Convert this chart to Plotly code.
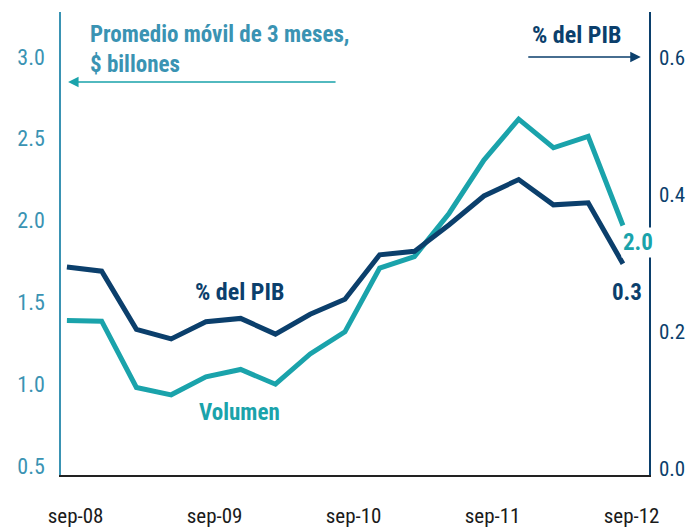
import plotly.graph_objects as go

# Data (quarterly points, sep-08 .. sep-12)
periodos = list(range(17))
volumen = [1.39, 1.385, 0.98, 0.935, 1.045, 1.09, 1.0, 1.185, 1.32, 1.71, 1.78, 2.045, 2.37, 2.62, 2.445, 2.515, 1.97]
pct_pib = [0.294, 0.288, 0.203, 0.189, 0.214, 0.219, 0.196, 0.225, 0.247, 0.312, 0.317, 0.356, 0.398, 0.422, 0.385, 0.388, 0.299]
tick_pos = [0.25, 4.25, 8.25, 12.25, 16.25]
tick_labels = ["sep-08", "sep-09", "sep-10", "sep-11", "sep-12"]
left_ticks = [0.5, 1.0, 1.5, 2.0, 2.5, 3.0]
right_ticks = [0.0, 0.2, 0.4, 0.6]

TEAL = "#1aa3ab"
TEAL_TXT = "#3a93b3"
NAVY = "#0b3f6c"
FONT = "Roboto Condensed, Liberation Sans Narrow, Arial Narrow, sans-serif"

fig = go.Figure()
fig.add_trace(go.Scatter(x=periodos, y=volumen, mode="lines",
                         line=dict(color=TEAL, width=5), yaxis="y", showlegend=False))
fig.add_trace(go.Scatter(x=periodos, y=pct_pib, mode="lines",
                         line=dict(color=NAVY, width=5), yaxis="y2", showlegend=False))

fig.update_layout(
    width=690, height=529,
    margin=dict(l=61, r=41, t=12, b=54),
    paper_bgcolor="white", plot_bgcolor="white",
    font=dict(family=FONT, size=22),
    xaxis=dict(range=[-0.17, 16.75], tickvals=tick_pos, ticktext=tick_labels,
               showgrid=False, zeroline=False, showline=True, linecolor="#222222",
               linewidth=1.5, ticks="", tickfont=dict(color="#1a1a1a", size=21),
               ticklabelstandoff=21, automargin=False),
    yaxis=dict(range=[0.445, 3.275], tickvals=left_ticks,
               ticktext=[f"{v:.1f}" for v in left_ticks],
               showgrid=False, zeroline=False, showline=True, linecolor=TEAL_TXT,
               linewidth=1.5, ticks="", tickfont=dict(color=TEAL_TXT, size=22),
               ticklabelstandoff=10, automargin=False),
    yaxis2=dict(range=[-0.01, 0.667], tickvals=right_ticks,
                ticktext=[f"{v:.1f}" for v in right_ticks],
                overlaying="y", side="right",
                showgrid=False, zeroline=False, showline=True, linecolor=NAVY,
                linewidth=1.5, ticks="", tickfont=dict(color=NAVY, size=21),
                ticklabelstandoff=4, automargin=False),
)

def label(x, y, text, color, size, bg=None):
    d = dict(xref="paper", yref="paper", x=x, y=y, xanchor="center", yanchor="middle",
             showarrow=False, text=f"<b>{text}</b>",
             font=dict(color=color, size=size, family=FONT))
    if bg:
        d["bgcolor"] = bg
    return d

ann = []
ann.append(dict(xref="paper", yref="paper", x=0.046, y=0.985, xanchor="left", yanchor="top",
                align="left", showarrow=False,
                text="<b>Promedio móvil de 3 meses,<br>$ billones</b>",
                font=dict(color=TEAL_TXT, size=23, family=FONT)))
ann.append(dict(xref="paper", yref="paper", x=0.012, y=0.849, ax=269, ay=0,
                showarrow=True, arrowhead=2, arrowsize=1.4, arrowwidth=1.5,
                arrowcolor=TEAL, text=""))
ann.append(label(0.876, 0.950, "% del PIB", NAVY, 24))
ann.append(dict(xref="paper", yref="paper", x=0.986, y=0.903, ax=-114, ay=0,
                showarrow=True, arrowhead=2, arrowsize=1.4, arrowwidth=1.5,
                arrowcolor=NAVY, text=""))
ann.append(label(0.304, 0.395, "% del PIB", NAVY, 24))
ann.append(label(0.304, 0.134, "Volumen", TEAL, 23))
ann.append(label(0.981, 0.503, "2.0", TEAL, 23, bg="white"))
ann.append(label(0.963, 0.395, "0.3", NAVY, 23))
fig.update_layout(annotations=ann)

fig.write_html("out.html")
